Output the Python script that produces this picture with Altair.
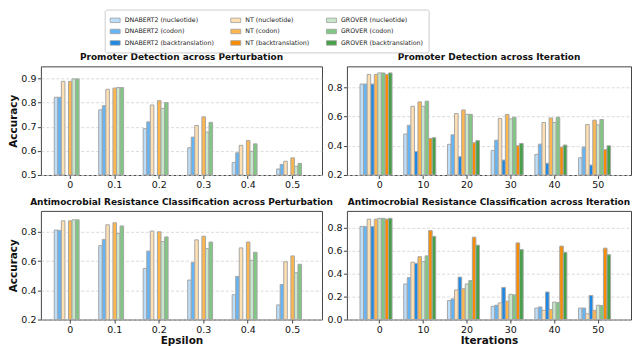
import altair as alt
import pandas as pd

SERIES = ["DNABERT2 (nucleotide)", "DNABERT2 (codon)", "DNABERT2 (backtranslation)",
          "NT (nucleotide)", "NT (codon)", "NT (backtranslation)",
          "GROVER (nucleotide)", "GROVER (codon)", "GROVER (backtranslation)"]
COLORS = ["#bbdefb", "#64b5f6", "#1e88e5",
          "#ffe0b2", "#ffb74d", "#fb8c00",
          "#c8e6c9", "#81c784", "#43a047"]
EPSILON = ["0", "0.1", "0.2", "0.3", "0.4", "0.5"]
ITERATIONS = ["0", "10", "20", "30", "40", "50"]

# Promoter Detection across Perturbation (nucleotide / codon only)
prom_pert = {
    "DNABERT2 (nucleotide)": [0.822, 0.770, 0.692, 0.613, 0.552, 0.525],
    "DNABERT2 (codon)":      [0.822, 0.787, 0.720, 0.657, 0.592, 0.544],
    "NT (nucleotide)":       [0.888, 0.855, 0.790, 0.705, 0.623, 0.557],
    "NT (codon)":            [0.888, 0.860, 0.808, 0.741, 0.643, 0.571],
    "GROVER (nucleotide)":   [0.898, 0.862, 0.776, 0.678, 0.598, 0.536],
    "GROVER (codon)":        [0.898, 0.862, 0.800, 0.718, 0.629, 0.548],
}
# Promoter Detection across Iteration
prom_iter = {
    "DNABERT2 (nucleotide)":      [0.822, 0.480, 0.410, 0.368, 0.341, 0.318],
    "DNABERT2 (codon)":           [0.822, 0.540, 0.475, 0.438, 0.411, 0.391],
    "DNABERT2 (backtranslation)": [0.822, 0.360, 0.325, 0.302, 0.280, 0.268],
    "NT (nucleotide)":            [0.888, 0.670, 0.620, 0.586, 0.559, 0.545],
    "NT (codon)":                 [0.888, 0.700, 0.645, 0.614, 0.590, 0.575],
    "NT (backtranslation)":       [0.888, 0.450, 0.420, 0.400, 0.391, 0.373],
    "GROVER (nucleotide)":        [0.898, 0.670, 0.615, 0.584, 0.559, 0.543],
    "GROVER (codon)":             [0.898, 0.705, 0.615, 0.595, 0.595, 0.580],
    "GROVER (backtranslation)":   [0.898, 0.455, 0.435, 0.416, 0.405, 0.400],
}
# Antimocrobial Resistance Classification across Perturbation
amr_pert = {
    "DNABERT2 (nucleotide)": [0.812, 0.705, 0.550, 0.470, 0.370, 0.300],
    "DNABERT2 (codon)":      [0.810, 0.748, 0.668, 0.590, 0.495, 0.440],
    "NT (nucleotide)":       [0.875, 0.848, 0.805, 0.745, 0.690, 0.595],
    "NT (codon)":            [0.875, 0.862, 0.800, 0.770, 0.730, 0.635],
    "GROVER (nucleotide)":   [0.882, 0.788, 0.733, 0.685, 0.605, 0.520],
    "GROVER (codon)":        [0.882, 0.840, 0.765, 0.730, 0.660, 0.578],
}
# Antimocrobial Resistance Classification across Iteration
amr_iter = {
    "DNABERT2 (nucleotide)":      [0.812, 0.310, 0.165, 0.115, 0.100, 0.100],
    "DNABERT2 (codon)":           [0.810, 0.365, 0.180, 0.125, 0.110, 0.100],
    "DNABERT2 (backtranslation)": [0.810, 0.490, 0.370, 0.280, 0.240, 0.210],
    "NT (nucleotide)":            [0.875, 0.500, 0.258, 0.145, 0.080, 0.050],
    "NT (codon)":                 [0.875, 0.548, 0.268, 0.160, 0.088, 0.080],
    "NT (backtranslation)":       [0.875, 0.775, 0.718, 0.668, 0.640, 0.622],
    "GROVER (nucleotide)":        [0.882, 0.505, 0.310, 0.220, 0.152, 0.125],
    "GROVER (codon)":             [0.882, 0.555, 0.340, 0.215, 0.148, 0.122],
    "GROVER (backtranslation)":   [0.882, 0.725, 0.648, 0.610, 0.585, 0.565],
}


def to_df(data, cats):
    rows = []
    for s, vals in data.items():
        for c, v in zip(cats, vals):
            rows.append({"group": c, "series": s, "value": v})
    return pd.DataFrame(rows)


W_LEFT, W_RIGHT, H = 282, 285, 109

legend = alt.Legend(
    orient="none", legendX=64, legendY=-57, columns=3, title=None,
    symbolType="M-1,-0.45H1V0.45H-1Z", symbolSize=100,
    symbolStrokeColor="#9e9e9e", symbolStrokeWidth=0.8,
    labelFontSize=6.3, labelFont="DejaVu Sans", labelColor="#222",
    labelOffset=4, rowPadding=1.5, columnPadding=14, padding=5,
    strokeColor="#cccccc", fillColor="white", cornerRadius=2,
)


def panel(data, cats, ydom, yvals, title, ytitle, xtitle, pad_inner, width):
    df = to_df(data, cats)
    present = [s for s in SERIES if s in data]
    yaxis = alt.Axis(values=yvals, format=".1f", title=ytitle) if ytitle else \
        alt.Axis(values=yvals, format=".1f", title=None)
    xaxis = alt.Axis(labelAngle=0, title=xtitle) if xtitle else alt.Axis(labelAngle=0, title=None)
    return alt.Chart(df).mark_bar(stroke="#a6a6a6", strokeWidth=1).encode(
        x=alt.X("group:N", sort=cats, axis=xaxis,
                scale=alt.Scale(paddingInner=pad_inner, paddingOuter=0.3)),
        xOffset=alt.XOffset("series:N", sort=present,
                            scale=alt.Scale(paddingInner=0, paddingOuter=0)),
        y=alt.Y("value:Q", axis=yaxis,
                scale=alt.Scale(domain=ydom, zero=False, nice=False)),
        y2=alt.datum(ydom[0]),
        color=alt.Color("series:N", legend=legend,
                        scale=alt.Scale(domain=SERIES, range=COLORS)),
    ).properties(width=width, height=H, title=title)


p1 = panel(prom_pert, EPSILON, [0.5, 0.95], [0.5, 0.6, 0.7, 0.8, 0.9],
           "Promoter Detection across Perturbation", "Accuracy", None, 0.28, W_LEFT)
p2 = panel(prom_iter, ITERATIONS, [0.2, 0.943], [0.2, 0.4, 0.6, 0.8],
           "Promoter Detection across Iteration", None, None, 0.1, W_RIGHT)
p3 = panel(amr_pert, EPSILON, [0.2, 0.943], [0.2, 0.4, 0.6, 0.8],
           "Antimocrobial Resistance Classification across Perturbation", "Accuracy", "Epsilon", 0.28, W_LEFT)
p4 = panel(amr_iter, ITERATIONS, [0.0, 0.947], [0.0, 0.2, 0.4, 0.6, 0.8],
           "Antimocrobial Resistance Classification across Iteration", None, "Iterations", 0.1, W_RIGHT)

chart = alt.concat(
    p1, p2, p3, p4, columns=2, bounds="flush",
    spacing={"row": 36, "column": 25}
).properties(
    padding={"left": 0, "top": 0, "right": 0, "bottom": 0}
).configure(font="DejaVu Sans").configure_view(
    stroke="#444444", strokeWidth=1
).configure_axis(
    labelFontSize=9.5, labelColor="#111", tickColor="#444", tickSize=3.5,
    labelPadding=1.5, domain=False, titleFontSize=10.5, titleFontWeight="bold",
    titleColor="#111"
).configure_axisY(
    grid=True, gridDash=[3, 2], gridColor="#d0d0d0", gridWidth=0.8, titlePadding=2
).configure_axisX(
    grid=False, titlePadding=2
).configure_title(
    fontSize=9, fontWeight="bold", anchor="middle", offset=4, color="#111"
)

chart.save("out.html", embed_options={"renderer": "svg", "actions": False})
